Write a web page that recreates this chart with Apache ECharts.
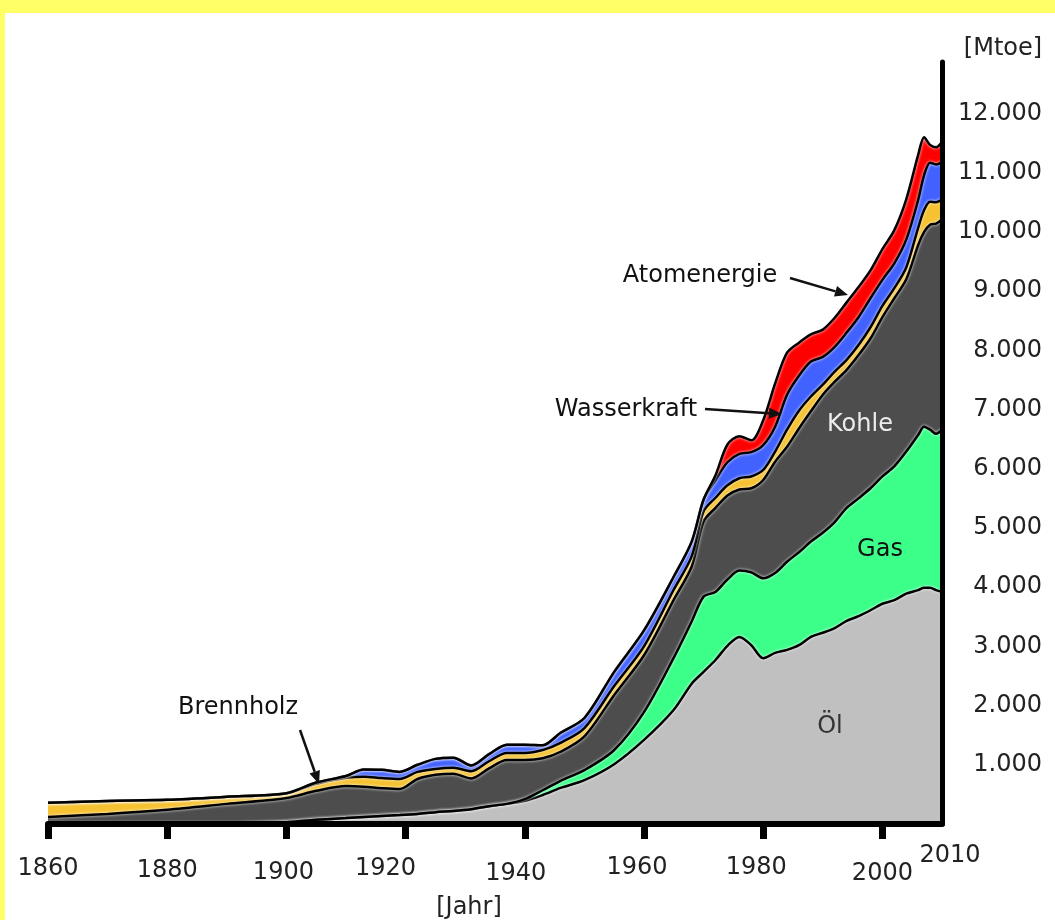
<!DOCTYPE html>
<html><head><meta charset="utf-8">
<script src="https://cdn.jsdelivr.net/npm/echarts@6/dist/echarts.min.js"></script>
<style>html,body{margin:0;padding:0;background:#fff}#c{width:1055px;height:920px}</style>
</head><body><div id="c"></div>
<script>
// ---- data (Mtoe) ----
const years = [1860,1870,1880,1890,1900,1905,1910,1913,1916,1919,1922,1925,1928,1931,1934,1937,1940,1943,1946,1950,1955,1960,1965,1968,1970,1972,1974,1976,1978,1980,1982,1984,1986,1988,1990,1992,1994,1996,1998,2000,2002,2004,2006,2007,2008,2009,2010];
const oel = [0,0,0,0,30,70,100,120,135,150,170,200,220,250,300,340,390,490,610,740,1010,1420,1930,2370,2570,2770,3010,3160,3020,2800,2890,2940,3020,3160,3230,3310,3430,3510,3610,3720,3780,3890,3950,3990,3990,3950,3920];
const gas = [0,0,0,0,0,0,0,0,0,0,0,0,0,0,0,0,30,80,120,170,240,470,880,1050,1270,1150,1120,1120,1230,1350,1350,1490,1570,1610,1690,1790,1910,1990,2060,2150,2260,2400,2620,2720,2670,2640,2740];
const kohle = [120,170,240,340,410,490,540,510,470,440,590,630,630,520,640,740,660,540,490,570,930,960,980,930,1270,1420,1420,1370,1420,1660,1880,1940,2090,2200,2330,2370,2330,2420,2530,2690,2840,2910,3210,3290,3460,3550,3550];
const brennholz = [240,220,170,120,80,120,140,170,170,170,120,100,100,120,120,120,120,140,150,140,150,150,170,170,170,170,170,190,200,170,170,290,300,250,170,170,170,170,190,190,170,200,290,370,390,360,340];
const wasserkraft = [0,0,0,0,0,20,30,120,140,120,120,170,170,100,120,140,140,80,170,170,240,270,220,250,200,300,390,410,410,420,420,590,590,590,470,420,460,470,490,440,420,470,470,590,660,640,630];
const atomenergie = [0,0,0,0,0,0,0,0,0,0,0,0,0,0,0,0,0,0,0,0,0,0,0,0,0,80,300,300,200,420,730,710,560,460,460,490,510,510,470,520,560,680,760,640,300,290,340];

const seriesNames = ['Öl','Gas','Kohle','Brennholz','Wasserkraft','Atomenergie'];
const xTickYears = [1860,1880,1900,1920,1940,1960,1980,2000];
const xEndYear = 2010;
const yLabelValues = [1000,2000,3000,4000,5000,6000,7000,8000,9000,10000,11000,12000];

// ---- styling ----
const FONT = 'DejaVu Sans';
const colors = ['#c0c0c0','#3cff8a','#4d4d4d','#f6c232','#4262ff','#ff0000'];
const values = [oel, gas, kohle, brennholz, wasserkraft, atomenergie];

// per-label line height (vertical stagger) and right padding (horizontal nudge)
const labelLH = {1860:50, 1880:54, 1900:57, 1920:50, 1940:60, 1960:48, 1980:48, 2000:60};
const labelPR = {1860:0, 1880:0, 1900:6, 1920:40, 1940:18, 1960:14, 1980:14, 2000:0};
const xRich = {};
xTickYears.forEach(y => { xRich['y' + y] = {fontSize:24, fontFamily:FONT, color:'#222', lineHeight:labelLH[y], padding:[0, labelPR[y], 0, 0]}; });

function fmtDe(v){ return (v/1000) + '.000'; }

function arrow(x1,y1,x2,y2){
  const a = Math.atan2(y2-y1, x2-x1), L = 13, W = 5.5;
  const bx = x2 - L*Math.cos(a), by = y2 - L*Math.sin(a);
  return [
    {type:'line', shape:{x1:x1,y1:y1,x2:bx,y2:by}, style:{stroke:'#111', lineWidth:2.5}, z:20},
    {type:'polygon', shape:{points:[[x2,y2],[bx - W*Math.sin(a), by + W*Math.cos(a)],[bx + W*Math.sin(a), by - W*Math.cos(a)]]}, style:{fill:'#111'}, z:20}
  ];
}
function txt(t,x,y,color){
  return {type:'text', x:x, y:y, z:20, style:{text:t, align:'center', verticalAlign:'middle', fontSize:24, fontFamily:FONT, fill:color}};
}

const chart = echarts.init(document.getElementById('c'), null, {renderer:'canvas'});
chart.setOption({
  animation:false,
  backgroundColor:'#fff',
  grid:{left:48, right:113, top:62, bottom:96},
  xAxis:{
    type:'value', min:1860, max:xEndYear, interval:20, z:5,
    name: String(xEndYear), nameLocation:'end', nameGap:8,
    nameTextStyle:{fontSize:24, fontFamily:FONT, color:'#222', align:'center', verticalAlign:'top', padding:[20,0,0,0]},
    axisLine:{lineStyle:{color:'#000', width:6}},
    axisTick:{customValues:xTickYears, length:15, lineStyle:{color:'#000', width:7}},
    axisLabel:{customValues:xTickYears, margin:20, showMaxLabel:true, showMinLabel:true, hideOverlap:false,
      formatter: v => '{y' + v + '|' + v + '}', rich:xRich},
    splitLine:{show:false}
  },
  yAxis:{
    type:'value', position:'right', min:0, max:12870, interval:1000, z:5,
    axisLine:{show:true, lineStyle:{color:'#000', width:5}},
    axisTick:{show:false},
    splitLine:{show:false},
    axisLabel:{customValues:yLabelValues, align:'right', margin:100, fontSize:24, fontFamily:FONT,
      color: v => v === 10000 ? '#000' : '#222',
      formatter: v => fmtDe(v)}
  },
  series: values.map((arr, i) => ({
    name: seriesNames[i], type:'line', stack:'energie',
    // value first so that the stacked dimension is the y value
    dimensions:['wert','jahr'],
    encode:{x:'jahr', y:'wert'},
    data: years.map((y, k) => [arr[k], y]),
    smooth:0.3, symbol:'none',
    lineStyle:{color:'#000', width:2.5, shadowColor:'rgba(255,255,255,0.95)', shadowBlur:3},
    areaStyle:{color:colors[i], opacity:1}
  })),
  graphic:[
    {type:'rect', shape:{x:0,y:0,width:1055,height:13}, style:{fill:'#ffff66'}, z:30},
    {type:'rect', shape:{x:0,y:0,width:5,height:920}, style:{fill:'#ffff66'}, z:30},
    txt('[Mtoe]', 1003, 49, '#222'),
    txt('[Jahr]', 469, 908, '#222'),
    txt('Öl', 830, 727, '#333'),
    txt('Gas', 880, 550, '#111'),
    txt('Kohle', 860, 425, '#ececec'),
    txt('Brennholz', 238, 708, '#111'),
    txt('Wasserkraft', 626, 410, '#111'),
    txt('Atomenergie', 700, 276, '#111'),
    ...arrow(300, 730, 319, 784),
    ...arrow(705, 409, 782, 414),
    ...arrow(790, 278, 848, 295)
  ]
});
</script></body></html>
